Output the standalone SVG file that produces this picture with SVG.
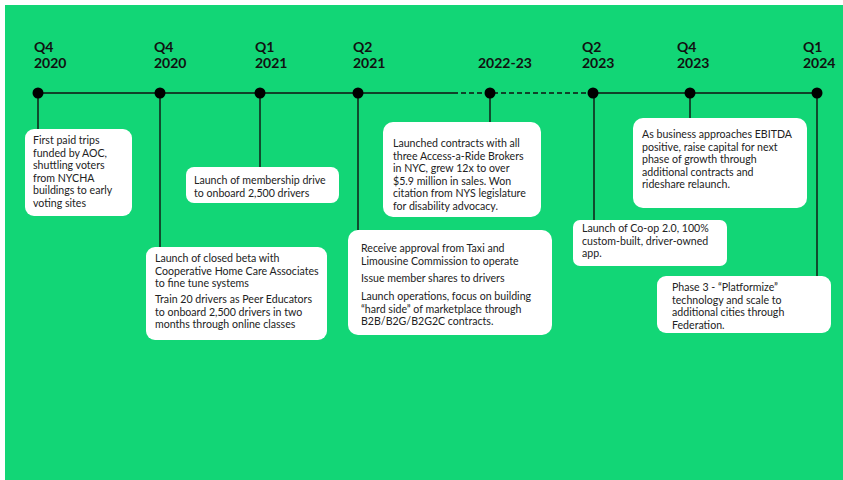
<svg xmlns="http://www.w3.org/2000/svg" width="843" height="480" viewBox="0 0 843 480">
<style>
.lbl{font-family:Lato,"Liberation Sans",sans-serif;font-weight:700;font-size:14px;fill:#111}
.txt{font-family:Lato,"Liberation Sans",sans-serif;font-size:10.6px;fill:#222}
.box{fill:#fff}
.ln{stroke:#111;stroke-width:1.4;fill:none}
.dot{fill:#000}
</style>
<rect x="0" y="0" width="843" height="480" fill="#fff"/>
<rect x="5" y="5" width="838" height="475" fill="#12d676"/>
<g id="connectors">
<line class="ln" x1="38" y1="93" x2="453" y2="93" stroke-width="2"/>
<line class="ln" x1="453" y1="93" x2="593" y2="93" stroke-dasharray="5 3" stroke-width="2"/>
<line class="ln" x1="593" y1="93" x2="817" y2="93" stroke-width="2"/>
<line class="ln" x1="38" y1="93" x2="38" y2="129"/>
<line class="ln" x1="160" y1="93" x2="160" y2="247"/>
<line class="ln" x1="260" y1="93" x2="260" y2="167"/>
<line class="ln" x1="358" y1="93" x2="358" y2="230"/>
<line class="ln" x1="490" y1="93" x2="490" y2="122"/>
<line class="ln" x1="594" y1="93" x2="594" y2="220"/>
<line class="ln" x1="690" y1="93" x2="690" y2="118"/>
<line class="ln" x1="817" y1="93" x2="817" y2="276"/>
</g>
<g id="n1">
<text class="lbl" x="34" y="52">Q4</text><text class="lbl" x="34" y="68">2020</text>
<circle class="dot" cx="38" cy="93" r="5.5"/>
<rect class="box" x="25" y="129" width="107" height="87" rx="9"/>
<text class="txt" x="33" y="144">First paid trips</text>
<text class="txt" x="33" y="156.5">funded by AOC,</text>
<text class="txt" x="33" y="169">shuttling voters</text>
<text class="txt" x="33" y="181.5">from NYCHA</text>
<text class="txt" x="33" y="194">buildings to early</text>
<text class="txt" x="33" y="206.5">voting sites</text>
</g>
<g id="n2">
<text class="lbl" x="154" y="52">Q4</text><text class="lbl" x="154" y="68">2020</text>
<circle class="dot" cx="160" cy="93" r="5.5"/>
<rect class="box" x="146" y="247" width="181" height="93" rx="9"/>
<text class="txt" x="155" y="262">Launch of closed beta with</text>
<text class="txt" x="155" y="274.5">Cooperative Home Care Associates</text>
<text class="txt" x="155" y="287">to fine tune systems</text>
<text class="txt" x="155" y="303">Train 20 drivers as Peer Educators</text>
<text class="txt" x="155" y="315.5">to onboard 2,500 drivers in two</text>
<text class="txt" x="155" y="328">months through online classes</text>
</g>
<g id="n3">
<text class="lbl" x="255" y="52">Q1</text><text class="lbl" x="255" y="68">2021</text>
<circle class="dot" cx="260" cy="93" r="5.5"/>
<rect class="box" x="186" y="167" width="153" height="36" rx="8"/>
<text class="txt" x="194" y="184">Launch of membership drive</text>
<text class="txt" x="194" y="196.5">to onboard 2,500 drivers</text>
</g>
<g id="n4">
<text class="lbl" x="353" y="52">Q2</text><text class="lbl" x="353" y="68">2021</text>
<circle class="dot" cx="358" cy="93" r="5.5"/>
<rect class="box" x="348" y="230" width="204" height="105" rx="10"/>
<text class="txt" x="361" y="252">Receive approval from Taxi and</text>
<text class="txt" x="361" y="264.5">Limousine Commission to operate</text>
<text class="txt" x="361" y="282">Issue member shares to drivers</text>
<text class="txt" x="361" y="300">Launch operations, focus on building</text>
<text class="txt" x="361" y="312.5">“hard side” of marketplace through</text>
<text class="txt" x="361" y="325">B2B/B2G/B2G2C contracts.</text>
</g>
<g id="n5">
<text class="lbl" x="478" y="68">2022-23</text>
<circle class="dot" cx="490" cy="93" r="5.5"/>
<rect class="box" x="383" y="122" width="158" height="95" rx="10"/>
<text class="txt" x="393" y="147">Launched contracts with all</text>
<text class="txt" x="393" y="159.5">three Access-a-Ride Brokers</text>
<text class="txt" x="393" y="172">in NYC, grew 12x to over</text>
<text class="txt" x="393" y="184.5">$5.9 million in sales. Won</text>
<text class="txt" x="393" y="197">citation from NYS legislature</text>
<text class="txt" x="393" y="209.5">for disability advocacy.</text>
</g>
<g id="n6">
<text class="lbl" x="582" y="52">Q2</text><text class="lbl" x="582" y="68">2023</text>
<circle class="dot" cx="593" cy="93" r="5.5"/>
<rect class="box" x="573" y="220" width="154" height="46" rx="7"/>
<text class="txt" x="582" y="232">Launch of Co-op 2.0, 100%</text>
<text class="txt" x="582" y="244.5">custom-built, driver-owned</text>
<text class="txt" x="582" y="257">app.</text>
</g>
<g id="n7">
<text class="lbl" x="677" y="52">Q4</text><text class="lbl" x="677" y="68">2023</text>
<circle class="dot" cx="690" cy="93" r="5.5"/>
<rect class="box" x="633" y="118" width="174" height="90" rx="10"/>
<text class="txt" x="642" y="138">As business approaches EBITDA</text>
<text class="txt" x="642" y="150.5">positive, raise capital for next</text>
<text class="txt" x="642" y="163">phase of growth through</text>
<text class="txt" x="642" y="175.5">additional contracts and</text>
<text class="txt" x="642" y="188">rideshare relaunch.</text>
</g>
<g id="n8">
<text class="lbl" x="803" y="52">Q1</text><text class="lbl" x="803" y="68">2024</text>
<circle class="dot" cx="817" cy="93" r="5.5"/>
<rect class="box" x="657" y="276" width="174" height="57" rx="9"/>
<text class="txt" x="672" y="291">Phase 3 - “Platformize”</text>
<text class="txt" x="672" y="303.5">technology and scale to</text>
<text class="txt" x="672" y="316">additional cities through</text>
<text class="txt" x="672" y="328.5">Federation.</text>
</g>
</svg>
